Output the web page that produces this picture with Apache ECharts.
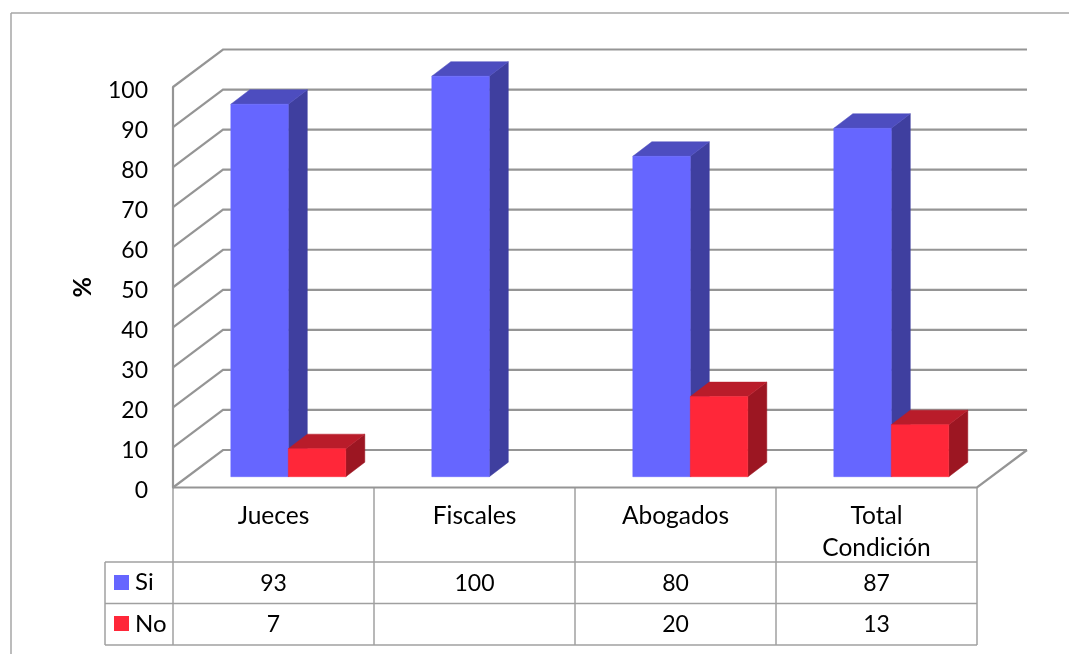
<!DOCTYPE html>
<html><head><meta charset="utf-8">
<style>html,body{margin:0;padding:0;background:#fff}#c{width:1069px;height:654px}</style>
<script src="https://cdn.jsdelivr.net/npm/echarts@6/dist/echarts.min.js"></script>
</head><body><div id="c"></div>
<script>
var categories = ['Jueces', 'Fiscales', 'Abogados', 'Total\nCondición'];
var siValues = [93, 100, 80, 87];
var noValues = [7, null, 20, 13];
var yTicks = [0, 10, 20, 30, 40, 50, 60, 70, 80, 90, 100];

var FONT = 'Lato';
var DEPTH_X = 50, DEPTH_Y = 37.5;
var BAR_W = 57.5, BAR_DX = 14.8, BAR_DY = 10.8, BAR_DEPTH_X = 19, BAR_DEPTH_Y = 14.5;
var WALL = '#959595';
var TBL = '#a0a0a0';
var GRID = {left: 173, top: 87, width: 804, height: 400.5};

function poly(points, fill) {
  return {type: 'polygon', shape: {points: points}, style: {fill: fill, stroke: fill, lineWidth: 0.5}};
}
function barRenderer(slot, front, top, side) {
  return function (params, api) {
    var v = api.value(1);
    if (v == null || isNaN(v)) return null;
    var p = api.coord([api.value(0), v]);
    var b = api.coord([api.value(0), 0]);
    var x0 = p[0] + BAR_DX + slot * BAR_W, x1 = x0 + BAR_W;
    var yt = p[1] - BAR_DY, yb = b[1] - BAR_DY;
    var dx = BAR_DEPTH_X, dy = BAR_DEPTH_Y;
    return {type: 'group', children: [
      poly([[x1, yt], [x1 + dx, yt - dy], [x1 + dx, yb - dy], [x1, yb]], side),
      poly([[x0, yt], [x0 + dx, yt - dy], [x1 + dx, yt - dy], [x1, yt]], top),
      poly([[x0, yt], [x1, yt], [x1, yb], [x0, yb]], front)
    ]};
  };
}
function wallRenderer(params, api) {
  var cs = params.coordSys, v = api.value(0);
  var y = api.coord([0, v])[1];
  var L = cs.x, R = cs.x + cs.width;
  var style = {stroke: WALL, lineWidth: 2.2, fill: null};
  var kids = [{type: 'polyline', shape: {points: [[L, y], [L + DEPTH_X, y - DEPTH_Y], [R + DEPTH_X, y - DEPTH_Y]]}, style: style}];
  if (v === 0) {
    kids.push({type: 'polyline', shape: {points: [[R + DEPTH_X, y - DEPTH_Y], [R, y], [L, y]]}, style: style});
  }
  return {type: 'group', children: kids};
}
function cellRenderer(rowY) {
  return function (params, api) {
    var v = api.value(1);
    if (v == null || isNaN(v)) return null;
    var p = api.coord([api.value(0), 0]);
    return {type: 'text', style: {text: String(v), x: p[0], y: rowY, fill: '#000',
      font: '23px ' + FONT, textAlign: 'center', textVerticalAlign: 'middle'}};
  };
}
function ln(x1, y1, x2, y2, c, w) {
  return {type: 'line', silent: true, shape: {x1: x1, y1: y1, x2: x2, y2: y2}, style: {stroke: c || TBL, lineWidth: w || 1.5}};
}
var L = GRID.left, R = GRID.left + GRID.width, colW = GRID.width / categories.length;
var R1 = 562, R2 = 603.5, R3 = 645, LEG = 105;
var tableGraphics = [
  ln(11, 13, 1069, 13, '#a6a6a6', 1.5),
  ln(11, 13, 11, 654, '#a6a6a6', 1.5),
  ln(LEG, R1, R, R1), ln(LEG, R2, R, R2), ln(LEG, R3, R, R3),
  ln(LEG, R1, LEG, R3)
];
for (var i = 0; i <= categories.length; i++) {
  tableGraphics.push(ln(L + i * colW, GRID.top + GRID.height, L + i * colW, R3));
}
tableGraphics.push(
  {type: 'rect', silent: true, shape: {x: 114, y: 575, width: 15, height: 15}, style: {fill: '#6666ff'}},
  {type: 'rect', silent: true, shape: {x: 114, y: 616, width: 15, height: 15}, style: {fill: '#ff2739'}},
  {type: 'text', silent: true, style: {text: 'Si', x: 135, y: 582, fill: '#000', font: '24px ' + FONT, textVerticalAlign: 'middle'}},
  {type: 'text', silent: true, style: {text: 'No', x: 135, y: 624, fill: '#000', font: '24px ' + FONT, textVerticalAlign: 'middle'}}
);

function pairs(arr) { return arr.map(function (v, i) { return [i, v]; }); }

var chart = echarts.init(document.getElementById('c'));
chart.setOption({
  animation: false,
  backgroundColor: '#fff',
  grid: GRID,
  graphic: {elements: tableGraphics},
  xAxis: {
    type: 'category', data: categories, boundaryGap: true,
    axisTick: {show: false},
    axisLine: {show: false},
    splitLine: {show: false},
    axisLabel: {interval: 0, margin: 13, color: '#000', fontFamily: FONT, fontSize: 24.5, lineHeight: 32, verticalAlign: 'top'}
  },
  yAxis: {
    type: 'value', min: 0, max: 100, interval: 10,
    name: '%', nameLocation: 'middle', nameRotate: 90, nameGap: 78,
    nameTextStyle: {color: '#000', fontFamily: FONT, fontSize: 25, fontWeight: 'bold'},
    axisLine: {show: true, lineStyle: {color: WALL, width: 2.2}},
    axisTick: {show: false},
    splitLine: {show: false},
    axisLabel: {margin: 25, color: '#000', fontFamily: FONT, fontSize: 23, verticalAlign: 'top', lineHeight: 7, formatter: function (v) { return yTicks.indexOf(v) >= 0 ? String(v) : ''; }}
  },
  series: [
    {name: 'walls', type: 'custom', silent: true, renderItem: wallRenderer, data: yTicks.map(function (v) { return [v]; }), encode: {x: -1, y: 0}, z: 1},
    {name: 'Si', type: 'custom', renderItem: barRenderer(-1, '#6666ff', '#4d4dbf', '#3f3f9f'), data: pairs(siValues), encode: {x: 0, y: 1}, z: 2},
    {name: 'No', type: 'custom', renderItem: barRenderer(0, '#ff2739', '#b91c2a', '#9c1622'), data: pairs(noValues), encode: {x: 0, y: 1}, z: 3},
    {name: 'Si table', type: 'custom', silent: true, renderItem: cellRenderer(584), data: pairs(siValues), encode: {x: 0, y: 1}, z: 4},
    {name: 'No table', type: 'custom', silent: true, renderItem: cellRenderer(625), data: pairs(noValues), encode: {x: 0, y: 1}, z: 4}
  ]
});
</script></body></html>
